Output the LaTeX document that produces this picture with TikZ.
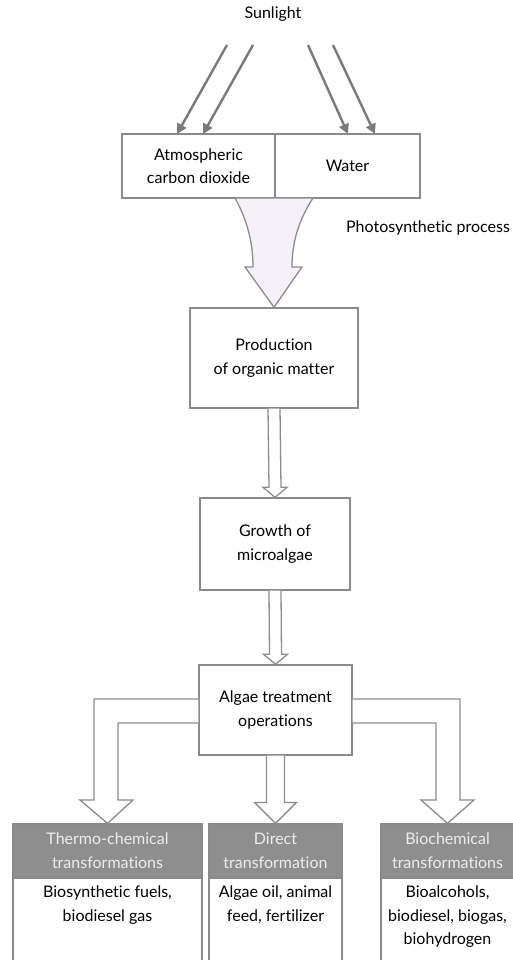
\documentclass[tikz,border=0pt]{standalone}
\usepackage{fontspec}
\setmainfont{Lato}[Ligatures={NoCommon,NoDiscretionary,NoRare}]
\usetikzlibrary{calc,arrows.meta}
\definecolor{boxline}{HTML}{8A8A8A}
\definecolor{arrline}{HTML}{8C8C8C}
\definecolor{sunline}{HTML}{7A7A7A}
\definecolor{hdrgray}{HTML}{8E8E8E}
\definecolor{hdrtext}{HTML}{EDEDED}
\definecolor{funnelfill}{HTML}{F6F1F8}
\tikzset{
  txt/.style={font=\fontsize{16}{23.5}\selectfont, align=center, inner sep=0pt},
  box/.style={txt, draw=boxline, line width=1.4pt, fill=white, rectangle},
  hdr/.style={txt, draw=boxline, line width=1.2pt, fill=hdrgray, text=hdrtext, rectangle},
  bodybox/.style={draw=boxline, line width=1.4pt, fill=white, rectangle, inner sep=0pt},
  blockarrow/.style={draw=arrline, line width=1.3pt, fill=white, line join=miter},
  sun/.style={draw=sunline, line width=2.4pt, -{Triangle[length=10pt,width=10pt]}}
}
\begin{document}
\begin{tikzpicture}[x=1pt,y=-1pt]
\useasboundingbox (0,0) rectangle (513,960);
\fill[white] (0,0) rectangle (513,960);

% title
\node[txt] (sun) at (273,14) {Sunlight};
\node[txt] (photo) at (428,228) {Photosynthetic process};

% top boxes
\node[box, minimum width=153pt, minimum height=64pt] (co2) at (198.5,166) {Atmospheric\\carbon dioxide};
\node[box, minimum width=145pt, minimum height=64pt] (water) at (347.5,166) {Water};

% sunlight arrows
\coordinate (s1) at (227,45);
\coordinate (s2) at (253,45);
\coordinate (s3) at (308,45);
\coordinate (s4) at (333,45);
\coordinate (t1) at (177,134);
\coordinate (t2) at (203,134);
\coordinate (t3) at (348,134);
\coordinate (t4) at (375,134);
\draw[sun] (s1) -- (t1);
\draw[sun] (s2) -- (t2);
\draw[sun] (s3) -- (t3);
\draw[sun] (s4) -- (t4);

% production box
\node[box, minimum width=168pt, minimum height=100pt] (prod) at (274,358) {Production\\of organic matter};

% funnel arrow
\draw[blockarrow, fill=funnelfill]
  (235,198) .. controls (246,218) and (253,240) .. (253,267)
  -- (245,267) -- (prod.north) -- (302,267) -- (292,267)
  .. controls (292,240) and (300,218) .. (313,198) -- cycle;

% growth & algae
\node[box, minimum width=150pt, minimum height=92pt] (growth) at (275,544) {Growth of\\microalgae};
\node[box, minimum width=153pt, minimum height=90pt] (algae) at (275.5,710) {Algae treatment\\operations};

% prod -> growth
\draw[blockarrow] ($(prod.south)+(-6,0)$) -- ($(growth.north)+(-6,-10)$) -- ($(growth.north)+(-12,-10)$)
  -- (growth.north) -- ($(growth.north)+(12,-10)$) -- ($(growth.north)+(6,-10)$) -- ($(prod.south)+(6,0)$);
% growth -> algae
\draw[blockarrow] ($(growth.south)+(-6,0)$) -- ($(algae.north)+(-6,-10)$) -- ($(algae.north)+(-12,-10)$)
  -- (algae.north) -- ($(algae.north)+(12,-10)$) -- ($(algae.north)+(6,-10)$) -- ($(growth.south)+(6,0)$);

% bottom boxes
\node[hdr, minimum width=189pt, minimum height=53pt] (h1) at (107.5,850.5) {Thermo-chemical\\transformations};
\node[hdr, minimum width=133pt, minimum height=53pt] (h2) at (275.5,850.5) {Direct\\transformation};
\node[hdr, minimum width=133pt, minimum height=53pt] (h3) at (447.5,850.5) {Biochemical\\transformations};
\node[bodybox, minimum width=189pt, minimum height=90pt, anchor=north] (b1) at (h1.south) {};
\node[bodybox, minimum width=133pt, minimum height=90pt, anchor=north] (b2) at (h2.south) {};
\node[bodybox, minimum width=133pt, minimum height=90pt, anchor=north] (b3) at (h3.south) {};
\node[txt, anchor=north] (b1t) at ($(b1.north)+(0,8)$) {Biosynthetic fuels,\\biodiesel gas};
\node[txt, anchor=north] (b2t) at ($(b2.north)+(0,8)$) {Algae oil, animal\\feed, fertilizer};
\node[txt, anchor=north] (b3t) at ($(b3.north)+(0,8)$) {Bioalcohols,\\biodiesel, biogas,\\biohydrogen};

% algae -> left
\draw[blockarrow] (algae.west |- 0,699) -- (94,699) -- (94,800) -- (80,800) -- (h1.north)
  -- (133,800) -- (118,800) -- (118,723) -- (algae.west |- 0,723);
% algae -> middle
\draw[blockarrow] ($(algae.south)+(-9,0)$) -- ($(h2.north)+(-9,-21)$) -- ($(h2.north)+(-21,-21)$)
  -- (h2.north) -- ($(h2.north)+(21,-21)$) -- ($(h2.north)+(9,-21)$) -- ($(algae.south)+(9,0)$);
% algae -> right
\draw[blockarrow] (algae.east |- 0,699) -- (460,699) -- (460,800) -- (474,800) -- (h3.north)
  -- (421,800) -- (436,800) -- (436,723) -- (algae.east |- 0,723);
\end{tikzpicture}
\end{document}
